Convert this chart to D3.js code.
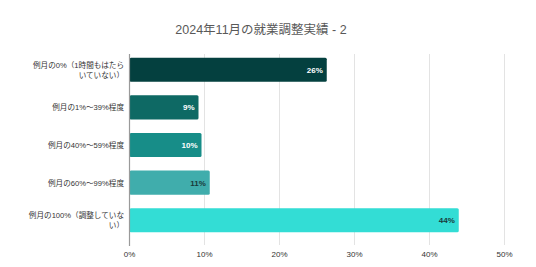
<!DOCTYPE html>
<html>
<head>
<meta charset="utf-8">
<script src="https://cdn.jsdelivr.net/npm/d3@7"></script>
<style>
  body { margin: 0; background: #fff; }
  text { font-family: "Liberation Sans", "Noto Sans CJK JP", sans-serif; }
</style>
</head>
<body>
<svg width="536" height="267"></svg>
<script>
// データ
const categories = [
    ["例月の0%（1時間もはたら", "いていない）"],
    ["例月の1%〜39%程度"],
    ["例月の40%〜59%程度"],
    ["例月の60%〜99%程度"],
    ["例月の100%（調整していな", "い）"]
];
const values = [26.3, 9.2, 9.6, 10.7, 43.9];
const valueLabels = ["26%", "9%", "10%", "11%", "44%"];
const barColors = ["#04403f", "#0e6964", "#178d88", "#40adac", "#33ddd5"];
const labelColors = ["#ffffff", "#ffffff", "#ffffff", "#1a3a3a", "#1a3a3a"];
const xTicks = [0, 10, 20, 30, 40, 50];
const title = "2024年11月の就業調整実績 - 2";

const svg = d3.select("svg");

// スケール
const x = d3.scaleLinear().domain([0, 50]).range([129.5, 504.5]);
const y = d3.scaleBand()
    .domain(d3.range(categories.length))
    .range([51, 239])
    .paddingInner(0.36)
    .paddingOuter(0.18);

// タイトル
svg.append("text")
    .attr("x", 261)
    .attr("y", 34)
    .attr("text-anchor", "middle")
    .style("font-size", "12.5px")
    .style("fill", "#595959")
    .text(title);

// グリッド線
svg.selectAll(".grid")
    .data(xTicks.slice(1))
    .enter()
    .append("line")
    .attr("x1", d => x(d))
    .attr("x2", d => x(d))
    .attr("y1", 54)
    .attr("y2", 245)
    .attr("stroke", "#e3e3e3")
    .attr("stroke-width", 1);

// バー
svg.selectAll(".bar")
    .data(values)
    .enter()
    .append("rect")
    .attr("x", x(0))
    .attr("y", (d, i) => y(i))
    .attr("width", d => x(d) - x(0))
    .attr("height", y.bandwidth())
    .attr("rx", 1.5)
    .attr("fill", (d, i) => barColors[i]);

// 0% の軸線
svg.append("line")
    .attr("x1", x(0))
    .attr("x2", x(0))
    .attr("y1", 54)
    .attr("y2", 246)
    .attr("stroke", "#9a9a9a")
    .attr("stroke-width", 1.2);

// バーのラベル
svg.selectAll(".vlabel")
    .data(values)
    .enter()
    .append("text")
    .attr("x", d => x(d) - 4)
    .attr("y", (d, i) => y(i) + y.bandwidth() / 2 + 3)
    .attr("text-anchor", "end")
    .style("font-size", "8px")
    .style("font-weight", "bold")
    .style("fill", (d, i) => labelColors[i])
    .text((d, i) => valueLabels[i]);

// カテゴリラベル
const catG = svg.selectAll(".cat")
    .data(categories)
    .enter()
    .append("text")
    .attr("text-anchor", "end")
    .style("font-size", "7.6px")
    .style("fill", "#333");

catG.each(function(lines, i) {
    const cy = y(i) + y.bandwidth() / 2;
    const start = cy + 3 - (lines.length - 1) * 5;
    d3.select(this).selectAll("tspan")
        .data(lines)
        .enter()
        .append("tspan")
        .attr("x", 124)
        .attr("y", (d, j) => start + j * 10)
        .text(d => d);
});

// x軸ラベル
svg.selectAll(".tick-label")
    .data(xTicks)
    .enter()
    .append("text")
    .attr("x", d => x(d))
    .attr("y", 257)
    .attr("text-anchor", "middle")
    .style("font-size", "8px")
    .style("fill", "#333")
    .text(d => d + "%");
</script>
</body>
</html>
